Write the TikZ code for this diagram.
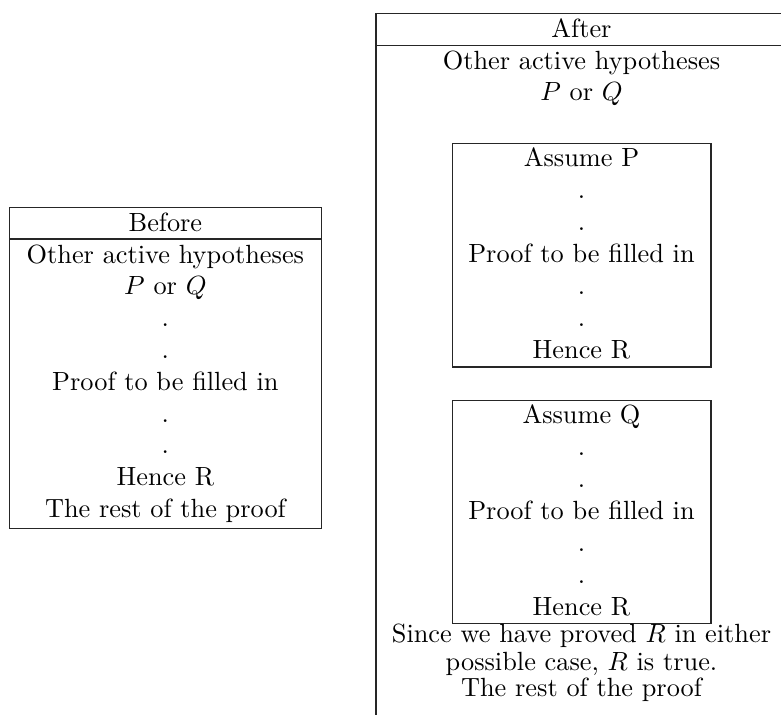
\documentclass[tikz,border=0pt]{standalone}
\begin{document}
\begin{tikzpicture}[
  x=0.38pt, y=-0.38pt,
  pfframe/.style = {draw=black!85, line width=0.4pt},
  pftext/.style = {anchor=base, inner sep=0pt}
]
  \useasboundingbox (0,0) rectangle (781,715);
  \clip (0,0) rectangle (781,715);
  % Before
  \begin{scope}[shift={(165.4,0)}]
    \draw[pfframe] (-156.1,207.3) rectangle (156.1,528.3);
    \draw[pfframe] (-156.1,239) -- (156.1,239);
    \node[pftext] (bhead) at (0,231) {Before};
    \node[pftext] (bhyp) at (0,263) {Other active hypotheses};
    \node[pftext] (bporq) at (0,294.8) {$P$ or $Q$};
    \foreach \y/\n in {326.6/1, 358.4/2, 422/3, 453.8/4}
      \node[pftext] (bdot\n) at (0,\y) {.};
    \node[pftext] (bfill) at (0,390.2) {Proof to be filled in};
    \node[pftext] (bhence) at (0,485.6) {Hence R};
    \node[pftext] (brest) at (0,517.4) {The rest of the proof};
  \end{scope}
  % After
  \begin{scope}[shift={(581.5,0)}]
    \draw[pfframe] (-205.5,740) -- (-205.5,13.5) -- (206,13.5) -- (206,740);
    \draw[pfframe] (-205.5,45.5) -- (206,45.5);
    \node[pftext] (ahead) at (0,37.2) {After};
    \node[pftext] (ahyp) at (0,69.5) {Other active hypotheses};
    \node[pftext] (aporq) at (0,100.5) {$P$ or $Q$};
    % case P
    \draw[pfframe] (-129,143.3) rectangle (129.5,367);
    \node[pftext] (phead) at (0,166) {Assume P};
    \foreach \y/\n in {198/1, 230/2, 294/3, 326/4}
      \node[pftext] (pdot\n) at (0,\y) {.};
    \node[pftext] (pfill) at (0,262) {Proof to be filled in};
    \node[pftext] (phence) at (0,358) {Hence R};
    % case Q
    \draw[pfframe] (-129,400.7) rectangle (129.5,623.5);
    \node[pftext] (qhead) at (0,423.5) {Assume Q};
    \foreach \y/\n in {455.5/1, 487.5/2, 551.5/3, 583.5/4}
      \node[pftext] (qdot\n) at (0,\y) {.};
    \node[pftext] (qfill) at (0,519.5) {Proof to be filled in};
    \node[pftext] (qhence) at (0,615.5) {Hence R};
    % conclusion
    \node[pftext] (since1) at (0,642.7) {Since we have proved $R$ in either};
    \node[pftext] (since2) at (0,670) {possible case, $R$ is true.};
    \node[pftext] (arest) at (0,696.7) {The rest of the proof};
  \end{scope}
\end{tikzpicture}
\end{document}
